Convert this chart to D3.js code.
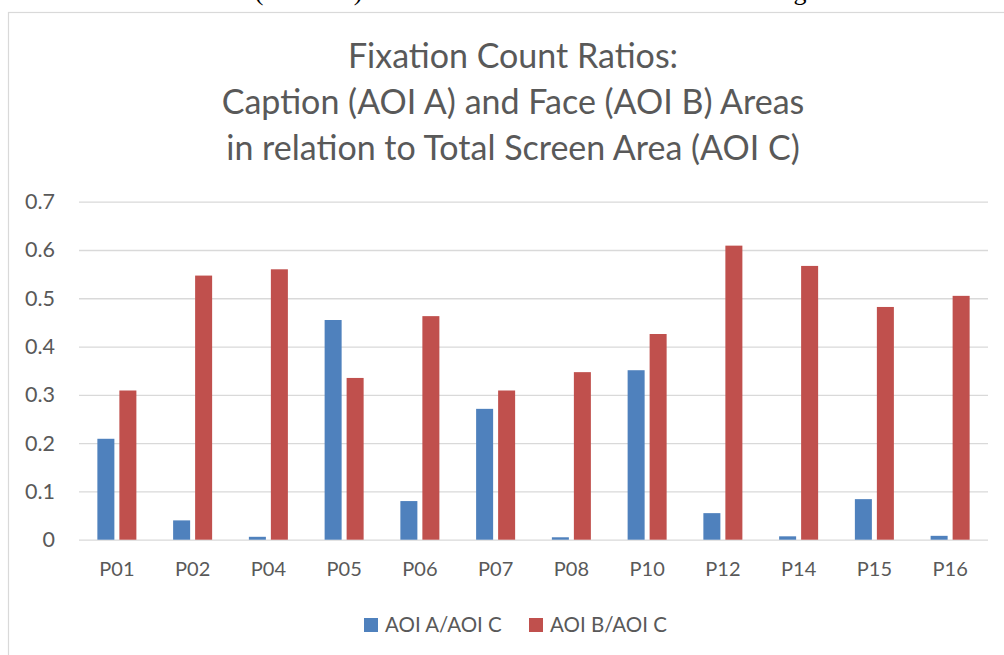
<!DOCTYPE html>
<html>
<head>
<meta charset="utf-8">
<script src="https://cdn.jsdelivr.net/npm/d3@7/dist/d3.min.js"></script>
<style>
  html, body { margin: 0; padding: 0; background: #fff; }
  svg { display: block; }
</style>
</head>
<body>
<svg id="chart" width="1004" height="655"></svg>
<script>
// ---- data ----
const categories = ["P01","P02","P04","P05","P06","P07","P08","P10","P12","P14","P15","P16"];
const seriesNames = ["AOI A/AOI C", "AOI B/AOI C"];
const aoiA = [0.209, 0.040, 0.006, 0.455, 0.080, 0.271, 0.005, 0.351, 0.055, 0.007, 0.084, 0.008];
const aoiB = [0.309, 0.547, 0.560, 0.335, 0.463, 0.309, 0.347, 0.426, 0.609, 0.567, 0.482, 0.505];
const yTicks = [0, 0.1, 0.2, 0.3, 0.4, 0.5, 0.6, 0.7];
const yTickLabels = ["0", "0.1", "0.2", "0.3", "0.4", "0.5", "0.6", "0.7"];
const titleLines = ["Fixation Count Ratios:", "Caption (AOI A) and Face (AOI B) Areas", "in relation to Total Screen Area (AOI C)"];
const colors = ["#4F81BD", "#C0504D"];

const svg = d3.select("#chart");
const W = 1004, H = 655;
const font = "Lato, 'Open Sans', sans-serif";
const textColor = "#595959";

// cropped text fragments from the surrounding document (cut off in the reference too)
const frag = svg.append("g").attr("font-family", "'Liberation Serif', serif").attr("font-size", 26).attr("fill", "#000");
[["(", 259], [")", 358], ["g", 800]].forEach(([t, x]) => {
  frag.append("text").attr("x", x).attr("y", -0.5).attr("text-anchor", "middle").text(t);
});

// chart frame
svg.append("rect")
  .attr("x", 8.5).attr("y", 12.5)
  .attr("width", W + 20).attr("height", H + 20)
  .attr("fill", "none").attr("stroke", "#D9D9D9").attr("stroke-width", 1.2);

// title
const title = svg.append("text")
  .attr("font-family", font).attr("font-size", 34).attr("fill", textColor)
  .attr("text-anchor", "middle");
titleLines.forEach((l, i) => {
  title.append("tspan").attr("x", 513).attr("y", 68 + i * 46).text(l);
});

// scales
const plot = { left: 79, right: 988, top: 201.7, bottom: 539.7 };
const x0 = d3.scaleBand().domain(categories).range([plot.left, plot.right])
  .paddingInner(0.485).paddingOuter(0.2425);
const x1 = d3.scaleBand().domain(seriesNames).range([0, x0.bandwidth()])
  .paddingInner(0.227).paddingOuter(0);
const y = d3.scaleLinear().domain([0, 0.7]).range([plot.bottom, plot.top]);

// gridlines
const yAxis = d3.axisLeft(y).tickValues(yTicks)
  .tickFormat((d, i) => yTickLabels[i])
  .tickSize(-(plot.right - plot.left)).tickPadding(24);
const gy = svg.append("g").attr("transform", `translate(${plot.left},0)`).call(yAxis);
gy.select(".domain").remove();
gy.selectAll(".tick line").attr("stroke", "#D9D9D9").attr("stroke-width", 1.3);
gy.selectAll(".tick text").attr("font-family", font).attr("font-size", 21.5).attr("fill", textColor);

// bars
const rows = categories.map((c, i) => ({ c, vals: [aoiA[i], aoiB[i]] }));
const groups = svg.append("g").selectAll("g").data(rows).join("g")
  .attr("transform", d => `translate(${x0(d.c)},0)`);
groups.selectAll("rect").data(d => d.vals.map((v, k) => ({ v, k }))).join("rect")
  .attr("x", d => x1(seriesNames[d.k]))
  .attr("width", x1.bandwidth())
  .attr("y", d => y(d.v))
  .attr("height", d => y(0) - y(d.v))
  .attr("fill", d => colors[d.k]);

// x axis labels
const xAxis = d3.axisBottom(x0).tickSize(0).tickPadding(22);
const gx = svg.append("g").attr("transform", `translate(0,${plot.bottom})`).call(xAxis);
gx.select(".domain").remove();
gx.selectAll(".tick text").attr("font-family", font).attr("font-size", 20).attr("fill", textColor);

// legend
const legend = svg.append("g").attr("font-family", font).attr("font-size", 20.5).attr("fill", textColor);
const legendX = [364, 529];
seriesNames.forEach((s, k) => {
  legend.append("rect").attr("x", legendX[k]).attr("y", 618).attr("width", 14).attr("height", 14).attr("fill", colors[k]);
  legend.append("text").attr("x", legendX[k] + 21).attr("y", 625).attr("dy", "0.36em").text(s);
});
</script>
</body>
</html>
